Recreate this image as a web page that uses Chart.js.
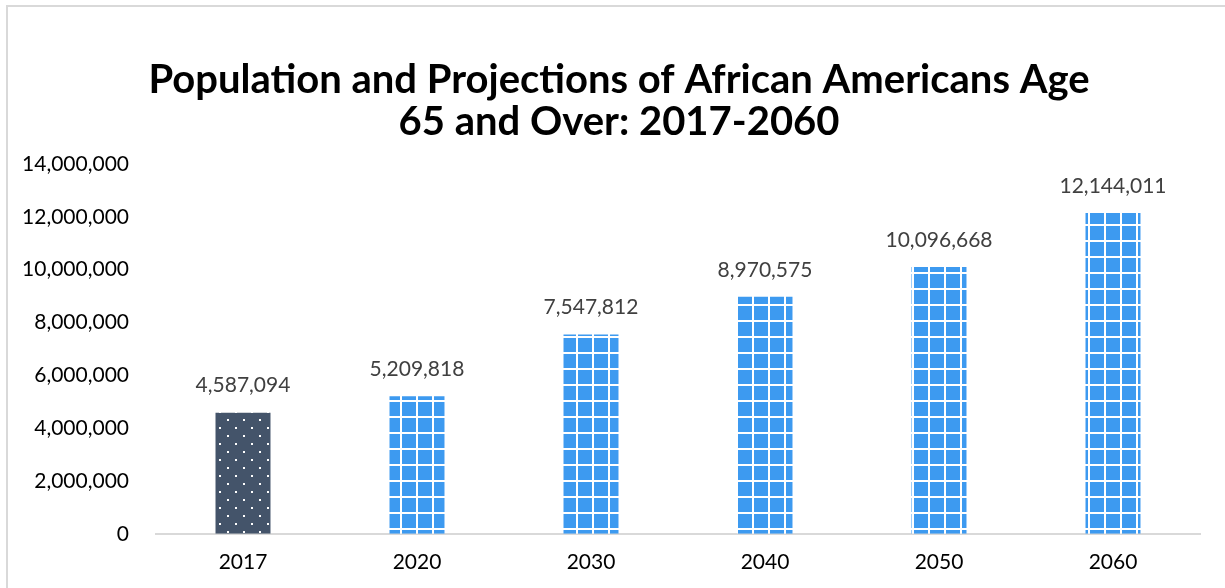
<!DOCTYPE html>
<html>
<head>
	<script src="https://cdn.jsdelivr.net/npm/chart.js"></script>
    <title>Population and Projections of African Americans Age 65 and Over</title>
    <style>
        html, body { margin: 0; padding: 0; background: #fff; overflow: hidden; }
        #wrap { position: relative; width: 1225px; height: 588px; }
        #frame { position: absolute; left: 6px; top: 5px; width: 1300px; height: 700px;
                 border: 2px solid #d9d9d9; pointer-events: none; }
    </style>
</head>
<body>
    <div id="wrap">
	    <canvas id="myChart" width="1225" height="588"></canvas>
        <div id="frame"></div>
    </div>

    <script>
        // chart data
        const years = ['2017', '2020', '2030', '2040', '2050', '2060'];
        const population = [4587094, 5209818, 7547812, 8970575, 10096668, 12144011];
        const titleLines = ['Population and Projections of African Americans Age', '65 and Over: 2017-2060'];

        const FONT = 'Lato, "Liberation Sans", sans-serif';

        // fill patterns like the excel original
        function gridPattern() {
            const c = document.createElement('canvas');
            c.width = 16; c.height = 16;
            const g = c.getContext('2d');
            g.fillStyle = '#3d9af0';
            g.fillRect(0, 0, 16, 16);
            g.fillStyle = '#ffffff';
            g.fillRect(0, 0, 2, 16);
            g.fillRect(0, 0, 16, 2);
            return g.createPattern(c, 'repeat');
        }
        function dotPattern() {
            const c = document.createElement('canvas');
            c.width = 16; c.height = 16;
            const g = c.getContext('2d');
            g.fillStyle = '#44546a';
            g.fillRect(0, 0, 16, 16);
            g.fillStyle = '#ffffff';
            g.fillRect(3, 3, 2, 2);
            g.fillRect(11, 11, 2, 2);
            return g.createPattern(c, 'repeat');
        }
        const grid = gridPattern();
        const dots = dotPattern();
        const fills = years.map((y, i) => i === 0 ? dots : grid);

        // title is centred on the whole frame, not on the canvas minus padding
        const frameTitle = {
            id: 'frameTitle',
            afterDraw(chart) {
                const ctx = chart.ctx;
                ctx.save();
                ctx.font = 'bold 40px ' + FONT;
                ctx.fillStyle = '#000';
                ctx.textAlign = 'center';
                ctx.textBaseline = 'middle';
                titleLines.forEach((t, i) => ctx.fillText(t, 619, 80 + i * 42));
                ctx.restore();
            }
        };

        // value labels above the bars
        const valueLabels = {
            id: 'valueLabels',
            afterDatasetsDraw(chart) {
                const ctx = chart.ctx;
                const meta = chart.getDatasetMeta(0);
                ctx.save();
                ctx.font = '21px ' + FONT;
                ctx.fillStyle = '#404040';
                ctx.textAlign = 'center';
                ctx.textBaseline = 'middle';
                meta.data.forEach((bar, i) => {
                    ctx.fillText(population[i].toLocaleString('en-US'), bar.x, bar.y - 27);
                });
                ctx.restore();
            }
        };

		const ctx = document.getElementById('myChart').getContext('2d');
		const chart = new Chart(ctx, {
			type: 'bar',
			data: {
				labels: years,
				datasets: [{
					data: population,
					backgroundColor: fills,
                    borderWidth: 0,
                    categoryPercentage: 1,
                    barPercentage: 0.316
				}]
			},
			options: {
                responsive: false,
                animation: false,
                devicePixelRatio: 1,
                layout: { padding: { top: 164, left: 0, right: 25, bottom: 5 } },
                plugins: {
                    legend: { display: false },
                    tooltip: { enabled: false },
                    title: { display: false }
                },
                scales: {
                    x: {
                        grid: { display: false },
                        border: { color: '#d9d9d9', width: 2 },
                        ticks: { color: '#000', font: { family: FONT, size: 21 }, padding: 8 }
                    },
                    y: {
                        min: 0,
                        max: 14000000,
                        grid: { display: false },
                        border: { display: false },
                        ticks: {
                            stepSize: 2000000,
                            color: '#000',
                            padding: 19,
                            font: { family: FONT, size: 21 },
                            callback: v => v.toLocaleString('en-US')
                        },
                        afterFit(scale) { scale.width = 156; }
                    }
                }
			},
            plugins: [valueLabels, frameTitle]
		});
    </script>
</body>
</html>
